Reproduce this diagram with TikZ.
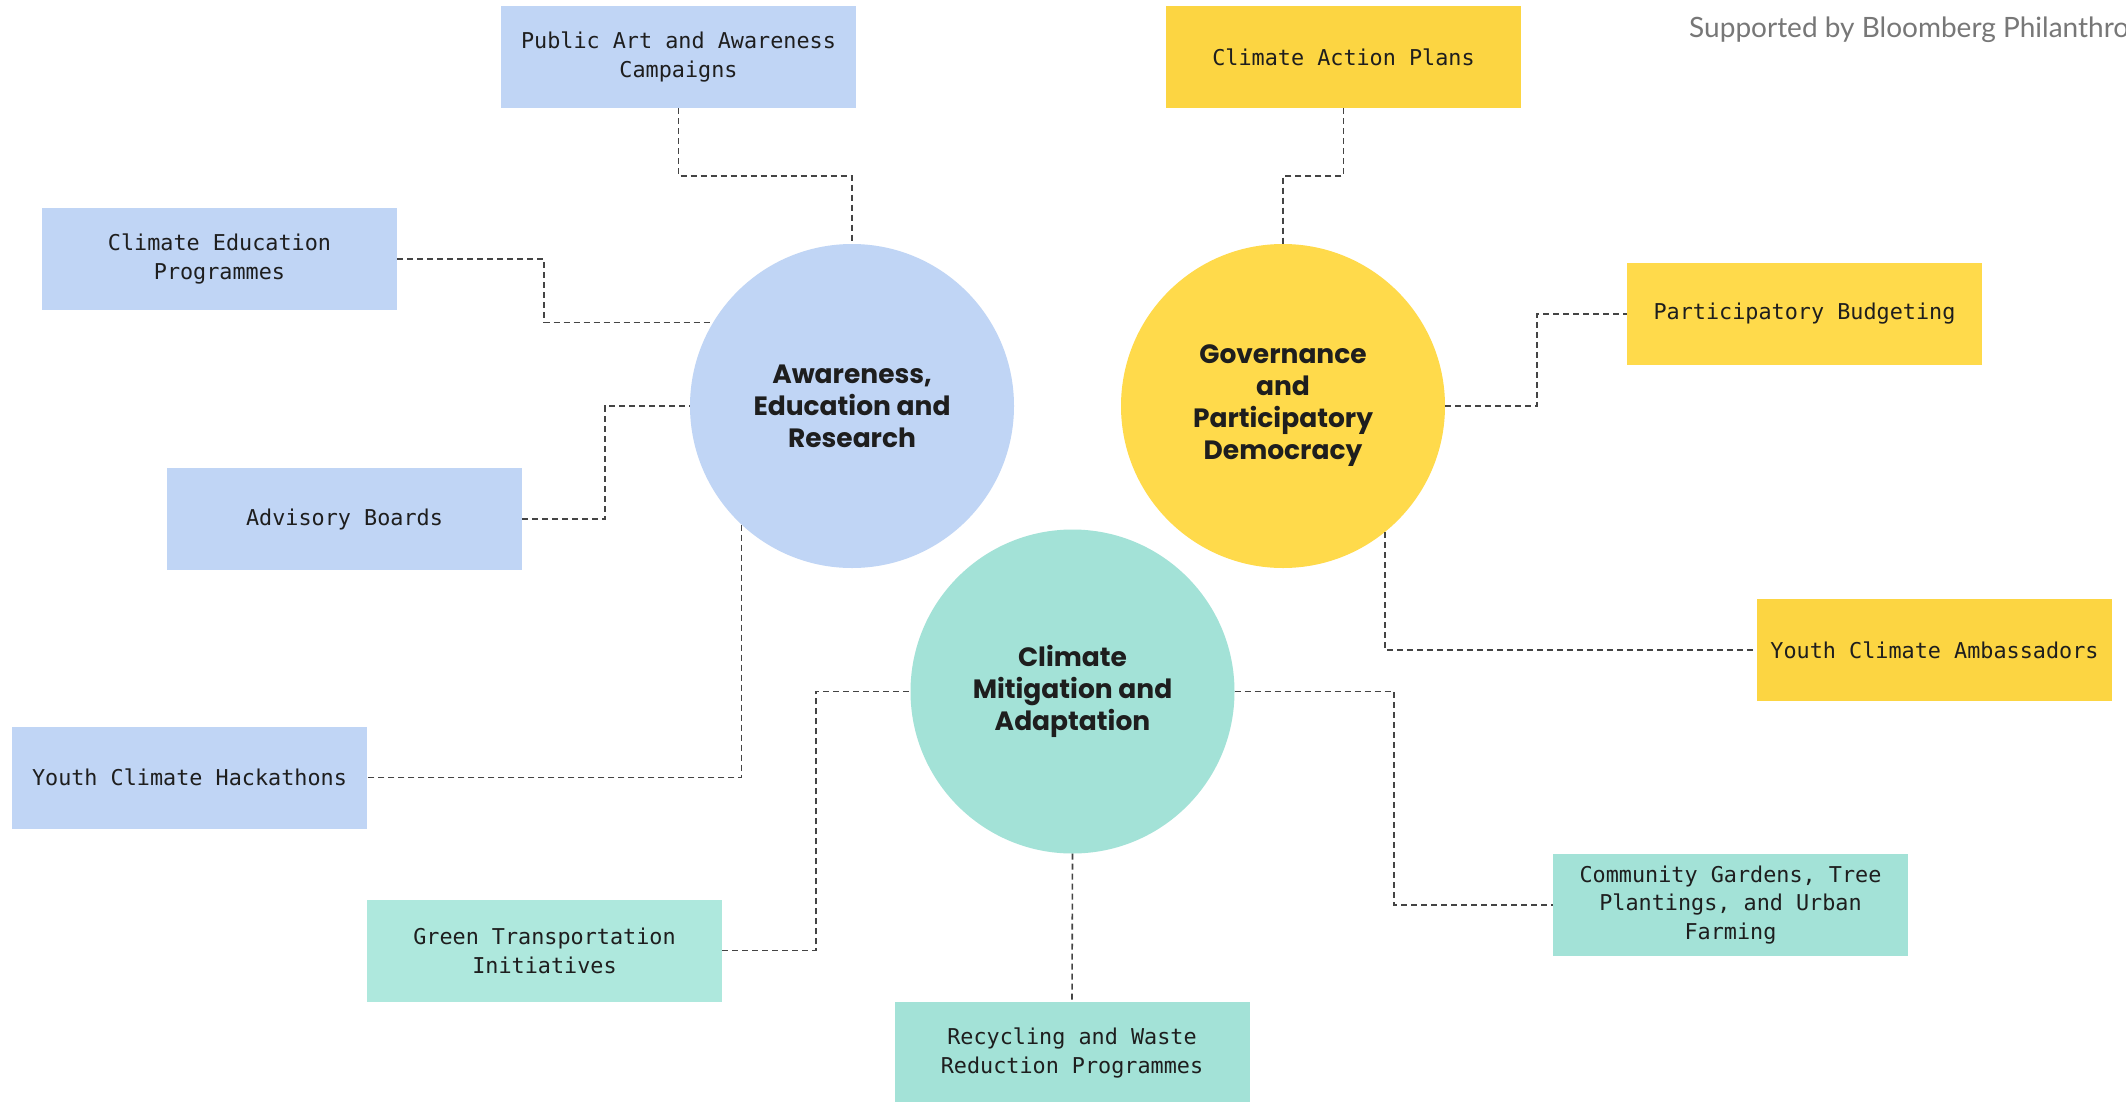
\documentclass[tikz,border=0pt]{standalone}
\usepackage{fontspec}
\setmainfont{Lato}
\newfontfamily\boxfont{DejaVu Sans Mono}
\newfontfamily\hubfont{Poppins}
\usetikzlibrary{calc}
\definecolor{bluefill}{HTML}{C0D5F5}
\definecolor{yelfill}{HTML}{FFDA4B}
\definecolor{yelbox}{HTML}{FCD542}
\definecolor{tealfill}{HTML}{A3E2D7}
\definecolor{tealbox}{HTML}{AEE8DD}
\definecolor{inkc}{HTML}{1E1E1E}
\definecolor{linec}{HTML}{444444}
\definecolor{notec}{HTML}{777777}
\tikzset{
  leaf/.style={rectangle, minimum width=355pt, minimum height=102pt, inner sep=0pt,
    align=center, text=inkc, font=\boxfont\fontsize{21.8}{28.8}\selectfont},
  hub/.style={circle, minimum size=324pt, inner sep=0pt, align=center, text=inkc,
    font=\hubfont\bfseries\fontsize{26.5}{32}\selectfont},
  link/.style={draw=linec, line width=1.6pt, dash pattern=on 6pt off 4pt}
}
\begin{document}
\begin{tikzpicture}[x=1pt,y=-1pt]
\path[fill=white,use as bounding box] (0,0) rectangle (2126,1101);
% hubs
\node[hub, fill=bluefill] (blue) at (852,406) {Awareness,\\Education and\\Research};
\node[hub, fill=yelfill] (yel) at (1283,406) {Governance\\and\\Participatory\\Democracy};
\node[hub, fill=tealfill] (teal) at (1072.5,691.5) {Climate\\Mitigation and\\Adaptation};
% leaves
\node[leaf, fill=bluefill] (pub) at (678.5,57) {Public Art and Awareness\\Campaigns};
\node[leaf, fill=bluefill] (ced) at (219.5,259) {Climate Education\\Programmes};
\node[leaf, fill=bluefill] (adv) at (344.5,519) {Advisory Boards};
\node[leaf, fill=bluefill] (hack) at (189.5,777.5) {Youth Climate Hackathons};
\node[leaf, fill=yelbox] (cap) at (1343.5,57) {Climate Action Plans};
\node[leaf, fill=yelfill] (pb) at (1804.5,314) {Participatory Budgeting};
\node[leaf, fill=yelbox] (yca) at (1934.5,650) {Youth Climate Ambassadors};
\node[leaf, fill=tealfill] (cg) at (1730.5,905) {Community Gardens, Tree\\Plantings, and Urban\\Farming};
\node[leaf, fill=tealbox] (gt) at (544.5,950.5) {Green Transportation\\Initiatives};
\node[leaf, fill=tealfill] (rec) at (1072,1053) {Recycling and Waste\\Reduction Programmes};
% note
\node[anchor=base west, inner sep=0pt, text=notec, font=\fontsize{28}{32}\selectfont] (note) at (1689,37) {Supported by Bloomberg Philanthro};
% bend coordinates
\coordinate (k1) at (544,0);
\coordinate (k2) at (605,0);
\coordinate (k3) at (1537,0);
\coordinate (k4) at (816,0);
\coordinate (k5) at (1394,0);
% connectors
\draw[link] (pub.south) |- ($(pub.south)!0.5!(blue.north)$) -| (blue.north);
\draw[link] (ced.east) -- (ced.east -| k1) |- (blue.149.4);
\draw[link] (adv.east) -- (adv.east -| k2) |- (blue.west);
\draw[link] (blue.227.2) |- (hack.east);
\draw[link] (cap.south) |- ($(cap.south)!0.5!(yel.north)$) -| (yel.north);
\draw[link] (yel.east) -- (yel.east -| k3) |- (pb.west);
\draw[link] (yel.-51.9) |- (yca.west);
\draw[link] (gt.east) -- (gt.east -| k4) |- (teal.west);
\draw[link] (teal.east) -- (teal.east -| k5) |- (cg.west);
\draw[link] (teal.south) -- (rec.north);
\end{tikzpicture}
\end{document}
